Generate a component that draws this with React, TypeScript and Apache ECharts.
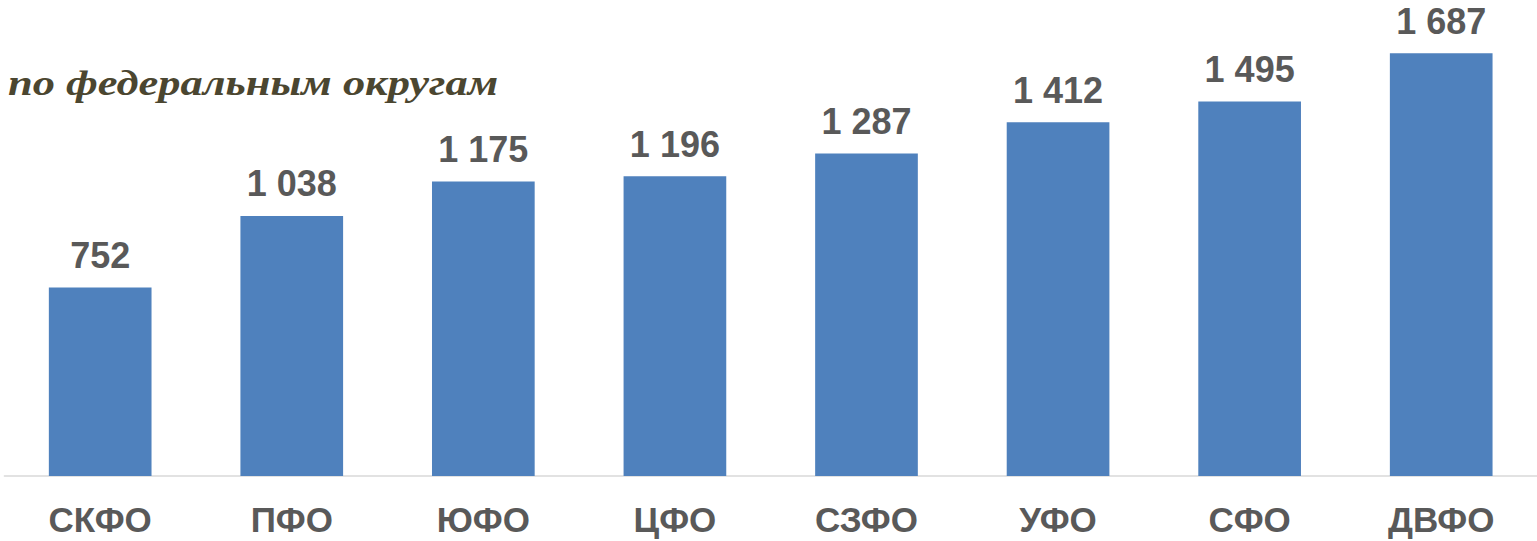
import React, { useEffect, useRef } from "react";
import * as echarts from "echarts";

const categories = ["СКФО", "ПФО", "ЮФО", "ЦФО", "СЗФО", "УФО", "СФО", "ДВФО"];
const values = [752, 1038, 1175, 1196, 1287, 1412, 1495, 1687];
const titleText = "по федеральным округам";

const fmt = (v: number) => String(v).replace(/\B(?=(\d{3})+(?!\d))/g, " ");

export default function App() {
  const ref = useRef<HTMLDivElement>(null);
  useEffect(() => {
    const chart = echarts.init(ref.current!, undefined, { renderer: "svg" });
    chart.setOption({
      animation: false,
      backgroundColor: "#ffffff",
      graphic: [
        {
          type: "text",
          x: 8,
          y: 66,
          scaleX: 1.27,
          style: {
            text: titleText,
            fontFamily: "Liberation Serif",
            fontStyle: "italic",
            fontWeight: "bold",
            fontSize: 35,
            lineHeight: 35,
            fill: "#4b4630",
            verticalAlign: "top",
            align: "left",
          },
        },
      ],
      grid: { left: 4.4, width: 1538.3, top: 25, bottom: 65, containLabel: false },
      xAxis: {
        type: "category",
        data: categories,
        axisLine: { show: true, lineStyle: { color: "#d9d9d9", width: 1.5 } },
        axisTick: { show: false },
        axisLabel: {
          fontFamily: "Liberation Sans, Arial",
          fontWeight: "bold",
          fontSize: 35,
          lineHeight: 35,
          color: "#595959",
          margin: 26,
        },
      },
      yAxis: {
        type: "value",
        min: 0,
        max: 1800,
        show: false,
        splitLine: { show: false },
      },
      series: [
        {
          type: "bar",
          data: values,
          barWidth: "53.6%",
          itemStyle: { color: "#4f81bd" },
          label: {
            show: true,
            position: "top",
            distance: 14,
            formatter: (p: any) => fmt(p.value),
            fontFamily: "Liberation Sans, Arial",
            fontWeight: "bold",
            fontSize: 36,
            lineHeight: 36,
            color: "#595959",
          },
        },
      ],
    });
    return () => chart.dispose();
  }, []);
  return (
    <div
      ref={ref}
      style={{ position: "absolute", left: 0, top: 0, width: 1537, height: 541 }}
    />
  );
}
